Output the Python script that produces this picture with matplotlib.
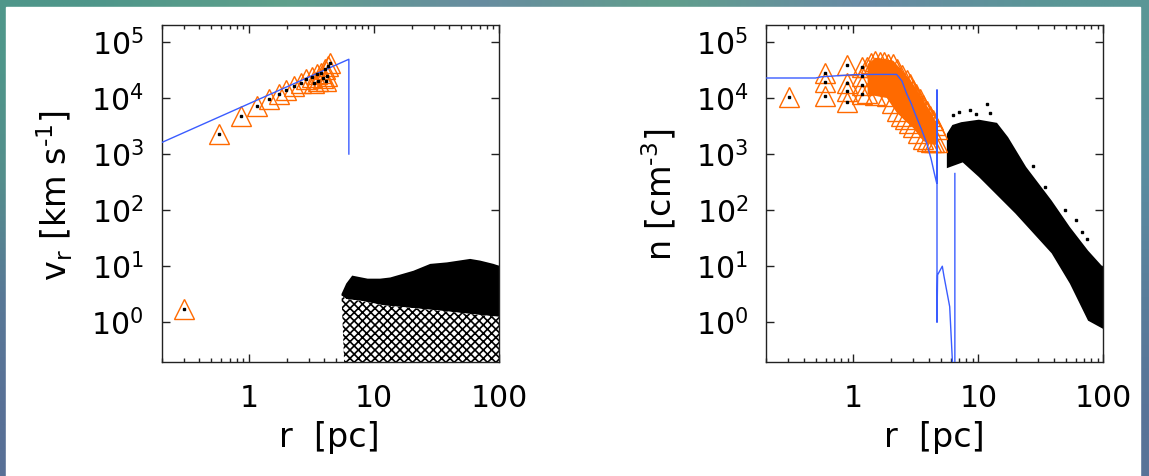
import numpy as np
import matplotlib
matplotlib.use('Agg')
import matplotlib.pyplot as plt
from matplotlib.ticker import NullLocator, FixedLocator, NullFormatter
from matplotlib.patches import Rectangle

# ---------------- data ----------------
# left panel: radial velocity v_r [km/s] vs r [pc]
vline_r = [0.2, 6.3, 6.3]
vline_v = [1600, 49000, 1000]

vtri_r = [0.30, 0.58, 0.87, 1.16, 1.45, 1.75, 1.99, 2.30, 2.60, 2.85, 3.18,
          3.49, 3.78, 4.07, 4.33, 3.3, 3.55, 3.9, 4.1, 4.2, 4.45]
vtri_v = [1.74, 2310, 4790, 7080, 9550, 12000, 14100, 16600, 18800, 21400, 23700,
          26300, 28200, 32400, 37200, 18600, 20000, 22900, 20000, 25100, 42700]

# black particle cloud (envelopes)
vcloud_up_r = [5.5, 6.0, 6.7, 8.9, 11.2, 13.5, 20.7, 28.2, 38.3, 58.8, 70.6, 90.4, 100]
vcloud_up_v = [3.2, 4.9, 6.8, 6.0, 6.0, 6.3, 8.3, 11.0, 11.7, 13.5, 12.6, 11.0, 10.2]
vcloud_mid_r = [100, 60, 35, 20, 12, 8, 6.0, 5.5]
vcloud_mid_v = [1.25, 1.4, 1.6, 1.8, 2.0, 2.4, 2.6, 3.0]
vcloud_lo_r = [5.8, 100]
vcloud_lo_v = [0.15, 0.15]

# right panel: density n [cm^-3] vs r [pc]
nline_r = [0.2, 0.5, 0.55, 1.0, 1.5, 2.0, 2.22, 2.45, 2.67, 2.9, 3.12, 3.5, 3.87,
           4.2, 4.45, 4.65, 4.67, 4.67, 4.70, 4.72, 5.15, 5.3, 5.9, 6.3, 6.49, 6.49]
nline_n = [22700, 22700, 23800, 26000, 26300, 26300, 26300, 20000, 12000, 8000,
           5250, 2800, 1550, 800, 450, 300, 14000, 1.0, 3.2, 7.0, 10.0, 6.8, 1.9,
           0.1, 0.1, 450]

ntri_r = [0.306, 0.594, 0.594, 0.594, 0.885, 0.885, 0.885, 0.885,
          1.17, 1.17, 1.17, 1.17]
ntri_n = [10500, 28200, 19500, 10700, 38000, 18200, 13300, 8510,
          35500, 24500, 17000, 12000]

# dense orange region: triangle centres along its upper and lower edges
norange_up_r = [1.28, 1.38, 1.5, 1.62, 1.75, 1.9, 2.09, 2.25, 2.45, 2.7, 2.85,
                3.02, 3.2, 3.4, 3.62, 3.87, 4.1, 4.3, 4.5, 4.65]
norange_up_n = [35500, 42000, 45700, 44000, 43600, 41000, 39800, 33000, 26000,
                20900, 17500, 14100, 11800, 9550, 7500, 5890, 4800, 3980, 3300, 2750]
norange_lo_r = [1.28, 1.5, 1.85, 2.05, 2.22, 2.4, 2.6, 2.8, 3.02, 3.3, 3.63,
                3.9, 4.2, 4.45, 4.65]
norange_lo_n = [12300, 11500, 10700, 8000, 5750, 4800, 4170, 3600, 3090, 2400,
                1820, 1700, 1660, 1640, 1620]
# solid orange area (where the outlines merge)
nsolid_up_r = [1.3, 1.5, 1.75, 2.09, 2.45, 2.85, 3.2, 3.62, 4.1, 4.5, 4.7]
nsolid_up_n = [40000, 52000, 50000, 46000, 31000, 21000, 14500, 9200, 6000, 4100, 3300]
nsolid_lo_r = [1.3, 1.85, 2.22, 2.6, 3.02, 3.63, 4.2, 4.7]
nsolid_lo_n = [11500, 10000, 5500, 3900, 2900, 1700, 1500, 1450]

# black particle cloud (envelopes)
ncloud_up_r = [5.6, 6.2, 7.3, 10.1, 14.1, 17.3, 24.1, 38.6, 54, 75.5, 100]
ncloud_up_n = [2290, 3300, 3700, 4100, 3600, 2000, 590, 148, 50, 19, 9.5]
ncloud_lo_r = [5.6, 7.5, 10.1, 19.8, 38.6, 54, 75.5, 100]
ncloud_lo_n = [560, 710, 390, 87, 17, 4.9, 1.07, 0.76]
nout_r = [6.3, 7.0, 8.6, 9.5, 11.7, 12.4, 27.5, 34, 49.5, 61, 67, 73.6]
nout_n = [4900, 5600, 6000, 5200, 7900, 5400, 600, 263, 102, 66, 41, 31]

xticks = [1, 10, 100]
xticklabels = ['1', '10', '100']
yticks = [1e0, 1e1, 1e2, 1e3, 1e4, 1e5]
yticklabels = [r'$\mathregular{10^{%d}}$' % k for k in range(6)]

# ---------------- styles ----------------
ORANGE = '#FF6A00'
BLUE = '#3A5CFF'
W, H = 1149, 476

fig = plt.figure(figsize=(W / 100, H / 100), dpi=100)

# decorative frame background
bg = fig.add_axes([0, 0, 1, 1], zorder=-10)
bgcols = np.array([
    [[79, 150, 138], [95, 160, 140], [104, 140, 160], [96, 158, 140], [104, 138, 164], [90, 150, 150]],
    [[84, 142, 140], [95, 150, 145], [100, 140, 158], [96, 150, 145], [100, 140, 160], [92, 140, 160]],
    [[88, 120, 150], [92, 130, 150], [96, 130, 155], [94, 135, 150], [96, 130, 155], [90, 125, 155]],
    [[88, 112, 150], [90, 118, 150], [92, 120, 152], [92, 122, 150], [92, 120, 152], [88, 115, 152]],
]) / 255.0
bg.imshow(bgcols, aspect='auto', interpolation='bilinear', extent=[0, 1, 0, 1])
bg.add_patch(Rectangle((6 / W, -0.01), (1140 - 6) / W, (H - 7) / H + 0.01, color='white',
                       transform=bg.transAxes))
bg.set_xlim(0, 1)
bg.set_ylim(0, 1)
bg.axis('off')

ay0 = 1 - 361.5 / H
ah = 336.5 / H
axL = fig.add_axes([161.5 / W, ay0, 337.5 / W, ah])
axR = fig.add_axes([766 / W, ay0, 337.3 / W, ah])

plt.rcParams['hatch.linewidth'] = 1.2

for ax in (axL, axR):
    ax.set_xscale('log')
    ax.set_yscale('log')
    ax.set_xlim(0.2, 100)
    ax.set_ylim(0.2, 2e5)
    ax.xaxis.set_major_locator(FixedLocator(xticks))
    ax.set_xticklabels(xticklabels)
    ax.xaxis.set_minor_locator(FixedLocator(
        [m * d for d in (0.1, 1, 10) for m in range(2, 10)]))
    ax.xaxis.set_minor_formatter(NullFormatter())
    ax.yaxis.set_major_locator(FixedLocator(yticks))
    ax.set_yticklabels(yticklabels)
    ax.yaxis.set_minor_locator(NullLocator())
    ax.tick_params(which='both', direction='in', top=True, right=True,
                   width=1.0, color='#222222', labelsize=21.5)
    ax.tick_params(which='major', length=5.5)
    ax.tick_params(which='minor', length=3)
    ax.tick_params(axis='x', which='major', pad=16)
    ax.tick_params(axis='y', which='major', pad=13)
    for s in ax.spines.values():
        s.set_linewidth(1.0)
        s.set_color('#222222')

# ---- left panel ----
axL.fill(vcloud_up_r + vcloud_mid_r, vcloud_up_v + vcloud_mid_v, color='k',
         lw=0, zorder=2)
axL.fill(vcloud_mid_r + vcloud_lo_r, vcloud_mid_v + vcloud_lo_v, facecolor='white',
         edgecolor='k', hatch='xxxx', lw=0, zorder=2)
axL.plot(vline_r, vline_v, color=BLUE, lw=1.0, zorder=4)
axL.plot(vtri_r, vtri_v, ls='none', marker='^', ms=14, mfc='none', mec=ORANGE,
         mew=1.0, zorder=3)
axL.plot(vtri_r, vtri_v, ls='none', marker='s', ms=1.8, color='k', zorder=5)

# ---- right panel ----
axR.fill(ncloud_up_r + ncloud_lo_r[::-1], ncloud_up_n + ncloud_lo_n[::-1],
         color='k', lw=0, zorder=2)
axR.plot(nout_r, nout_n, ls='none', marker='s', ms=1.8, color='k', zorder=2)
axR.fill(nsolid_up_r + nsolid_lo_r[::-1], nsolid_up_n + nsolid_lo_n[::-1],
         color=ORANGE, lw=0, zorder=3)
axR.plot(norange_up_r + norange_lo_r, norange_up_n + norange_lo_n, ls='none',
         marker='^', ms=14, mfc='none', mec=ORANGE, mew=1.0, zorder=3)
axR.plot(ntri_r, ntri_n, ls='none', marker='^', ms=14, mfc='none', mec=ORANGE,
         mew=1.0, zorder=3)
axR.plot(ntri_r, ntri_n, ls='none', marker='s', ms=1.8, color='k', zorder=5)
axR.plot(nline_r, nline_n, color=BLUE, lw=1.0, zorder=4)

# ---- axis labels ----
fig.text(329 / W, 1 - 438 / H, 'r  [pc]', fontsize=24, ha='center', va='center')
fig.text(934 / W, 1 - 438 / H, 'r  [pc]', fontsize=24, ha='center', va='center')
fig.text(54.6 / W, 1 - 196 / H, r'v$_\mathregular{r}$ [km s$^{\text{-1}}$]',
         fontsize=24, rotation=90, ha='center', va='center')
fig.text(659 / W, 1 - 195 / H, r'n [cm$^{\text{-3}}$]',
         fontsize=24, rotation=90, ha='center', va='center')

fig.savefig('out.png', dpi=100)
